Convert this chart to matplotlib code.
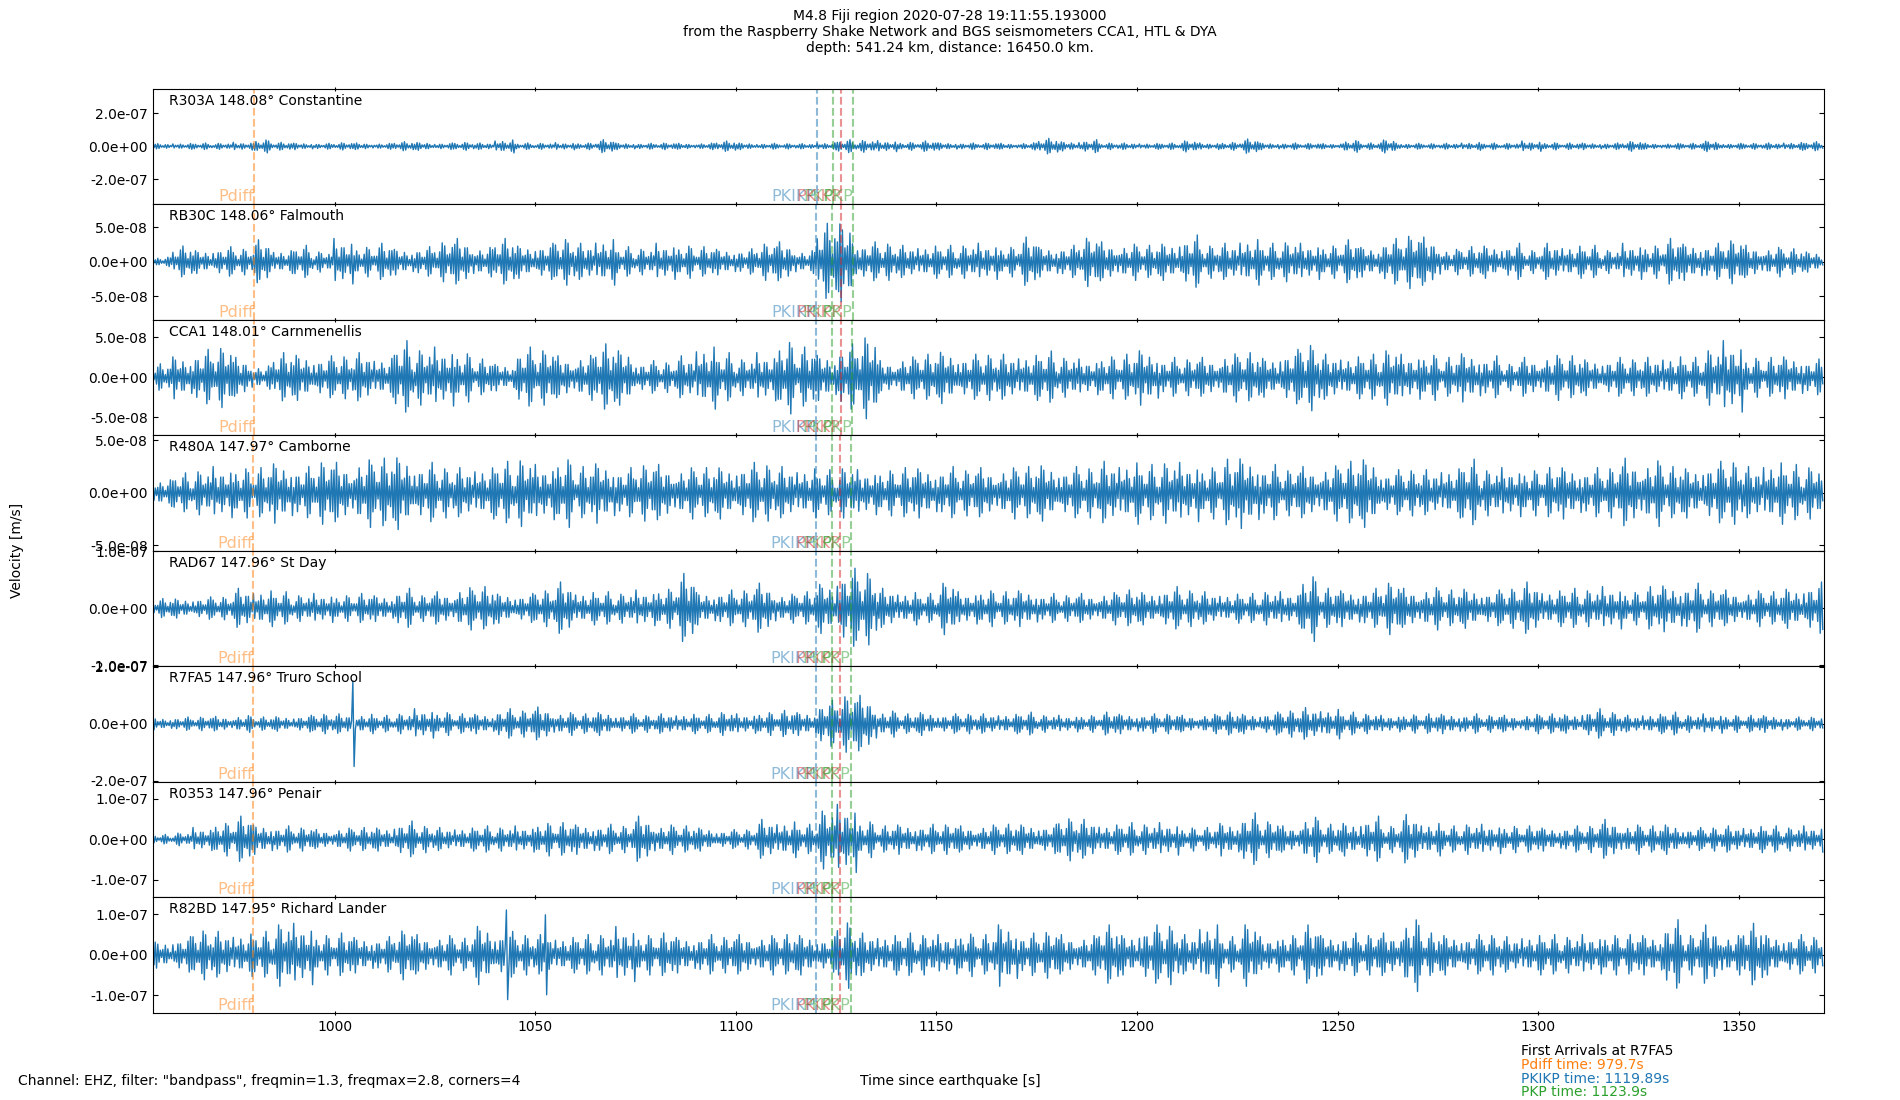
import numpy as np
import matplotlib
matplotlib.use("Agg")
import matplotlib.pyplot as plt
import matplotlib.transforms as mtransforms
from matplotlib.ticker import MultipleLocator, FormatStrFormatter

# --- stations (top to bottom) ---
stations = ["R303A", "RB30C", "CCA1", "R480A", "RAD67", "R7FA5", "R0353", "R82BD"]
distances = [148.08, 148.06, 148.01, 147.97, 147.96, 147.96, 147.96, 147.95]
places = ["Constantine", "Falmouth", "Carnmenellis", "Camborne", "St Day",
          "Truro School", "Penair", "Richard Lander"]

# y limits (+/-) and tick step, m/s
ylims = [3.5e-7, 8.4e-8, 7.25e-8, 5.5e-8, 1.01e-7, 2.03e-7, 1.42e-7, 1.43e-7]
ysteps = [2e-7, 5e-8, 5e-8, 5e-8, 1e-7, 2e-7, 1e-7, 1e-7]

# arrival times per station [s]
phase_names = ["Pdiff", "PKIKP", "PKP", "PKiKP", "PKP"]
phase_colors = ["C1", "C0", "C2", "C3", "C2"]
arrivals = [
    [980.0, 1120.15, 1124.15, 1126.2, 1129.15],
    [980.0, 1120.1, 1124.1, 1126.2, 1129.1],
    [979.95, 1120.05, 1124.05, 1126.1, 1129.0],
    [979.8, 1119.95, 1123.95, 1126.0, 1128.8],
    [979.7, 1119.9, 1123.9, 1125.9, 1128.6],
    [979.7, 1119.89, 1123.9, 1125.9, 1128.6],
    [979.7, 1119.9, 1123.9, 1125.9, 1128.6],
    [979.7, 1119.88, 1123.9, 1125.9, 1128.6],
]

# trace window [s since origin]
t_start, t_end = 954.7, 1371.2

# peak amplitude per ~5 s window, nm/s
env_r303a = [16, 18, 20, 18, 24, 40, 24, 20, 18, 22, 20, 18, 28, 24, 20, 24, 20, 40, 20, 18,
             22, 20, 40, 20, 18, 20, 18, 20, 32, 20, 18, 16, 16, 22, 40, 36, 34, 24, 32, 22,
             20, 20, 18, 22, 48, 28, 40, 20, 20, 18, 20, 34, 20, 24, 44, 20, 20, 18, 16, 36,
             20, 40, 18, 16, 18, 24, 20, 18, 32, 22, 20, 20, 20, 30, 18, 18, 18, 32, 18, 18,
             20, 24, 28]
env_rb30c = [7, 23, 17, 22, 19, 32, 17, 24, 15, 34, 22, 27, 19, 22, 29, 34, 22, 34, 24, 27,
             34, 27, 34, 22, 19, 27, 24, 22, 19, 19, 27, 29, 17, 56, 58, 29, 27, 24, 24, 24,
             24, 27, 22, 36, 22, 24, 36, 29, 27, 24, 27, 39, 24, 27, 34, 27, 29, 27, 24, 32,
             22, 34, 39, 36, 19, 22, 24, 27, 17, 27, 24, 24, 17, 27, 24, 34, 27, 27, 32, 24,
             22, 19, 15]
env_cca1 = [17, 27, 35, 38, 25, 15, 31, 29, 27, 27, 31, 25, 46, 35, 38, 31, 23, 17, 38, 35,
            27, 29, 42, 35, 21, 19, 27, 40, 31, 23, 31, 46, 38, 29, 42, 52, 21, 27, 29, 33,
            29, 29, 29, 29, 33, 25, 23, 27, 29, 35, 25, 23, 25, 31, 31, 25, 35, 42, 29, 27,
            29, 35, 29, 29, 25, 31, 27, 17, 25, 29, 27, 23, 25, 23, 25, 27, 25, 35, 46, 25,
            25, 27, 23]
env_r480a = [13, 19, 21, 25, 24, 24, 29, 25, 30, 29, 33, 33, 35, 29, 24, 24, 25, 30, 32, 27,
             33, 25, 29, 24, 27, 27, 25, 24, 25, 29, 27, 25, 24, 22, 24, 22, 22, 24, 24, 25,
             22, 24, 25, 25, 27, 25, 24, 30, 30, 27, 29, 29, 25, 32, 34, 27, 22, 25, 27, 30,
             33, 22, 22, 22, 24, 32, 22, 24, 22, 24, 25, 24, 24, 33, 32, 25, 24, 30, 30, 25,
             30, 27, 25]
env_rad67 = [17, 17, 20, 20, 35, 32, 29, 23, 26, 23, 26, 23, 35, 23, 29, 38, 38, 26, 26, 32,
             46, 29, 29, 26, 32, 35, 61, 29, 32, 32, 44, 26, 29, 44, 70, 64, 35, 29, 26, 46,
             29, 32, 29, 32, 26, 23, 26, 29, 32, 29, 38, 32, 29, 26, 26, 29, 29, 58, 35, 32,
             35, 46, 35, 38, 32, 35, 32, 35, 46, 32, 35, 32, 38, 29, 38, 41, 44, 32, 32, 32,
             29, 35, 46]
env_r7fa5 = [21, 24, 24, 26, 30, 24, 26, 30, 35, 35, 35, 30, 35, 53, 41, 35, 35, 53, 47, 59,
             41, 35, 41, 35, 30, 35, 35, 33, 41, 35, 41, 47, 41, 83, 100, 100, 47, 35, 41, 35,
             35, 35, 35, 41, 30, 30, 30, 41, 35, 35, 35, 30, 35, 41, 35, 41, 47, 57, 53, 41,
             35, 30, 33, 35, 35, 35, 30, 30, 35, 35, 33, 53, 41, 30, 35, 41, 30, 35, 30, 30,
             30, 24, 24]
env_r0353 = [12, 16, 29, 41, 57, 37, 33, 29, 24, 29, 29, 29, 45, 33, 29, 29, 33, 29, 33, 41,
             41, 37, 37, 33, 57, 37, 33, 29, 24, 24, 49, 45, 37, 73, 86, 45, 33, 37, 37, 37,
             33, 37, 37, 37, 37, 53, 49, 37, 41, 37, 41, 29, 29, 41, 65, 45, 33, 57, 37, 41,
             57, 33, 61, 41, 33, 37, 37, 33, 33, 29, 33, 33, 49, 37, 33, 37, 29, 29, 33, 33,
             33, 29, 33]
env_r82bd = [33, 45, 62, 58, 54, 58, 78, 78, 50, 54, 45, 45, 62, 50, 50, 41, 74, 58, 50, 50,
             45, 50, 50, 70, 50, 54, 45, 50, 45, 50, 50, 50, 50, 45, 83, 54, 50, 54, 50, 50,
             54, 50, 78, 54, 58, 50, 50, 74, 50, 74, 74, 50, 78, 45, 78, 45, 50, 74, 50, 54,
             50, 54, 91, 54, 50, 50, 50, 45, 50, 50, 45, 50, 50, 50, 50, 87, 50, 74, 50, 78,
             50, 50, 45]
envelopes = [env_r303a, env_rb30c, env_cca1, env_r480a, env_rad67, env_r7fa5, env_r0353, env_r82bd]

# single large spikes (time s, amplitude nm/s)
spikes = [[], [], [], [], [], [(1004.6, 150)], [], [(1042.9, 111), (1052.6, 99)]]

# shape of the wiggle packet inside one window (relative to the window peak)
wiggle = np.array([0.3, 0.5, 0.75, 0.95, 1.0, 0.8, 0.55, 0.35,
                   0.2, 0.4, 0.6, 0.72, 0.6, 0.45, 0.3, 0.18])

title = ("M4.8 Fiji region 2020-07-28 19:11:55.193000\n"
         "from the Raspberry Shake Network and BGS seismometers CCA1, HTL & DYA\n"
         "depth: 541.24 km, distance: 16450.0 km.")
filt_text = 'Channel: EHZ, filter: "bandpass", freqmin=1.3, freqmax=2.8, corners=4'
first_station = "R7FA5"
first_pdiff, first_pkikp, first_pkp = 979.7, 1119.89, 1123.9


def build_trace(env_nm, spk, shift):
    n = len(wiggle)
    dt = (t_end - t_start) / len(env_nm) / n
    y = []
    for k, a in enumerate(env_nm):
        y.extend(a * np.roll(wiggle, -((5 * k + shift) % n)))
    y = np.array(y) * 1e-9
    y[1::2] *= -1
    t = t_start + np.arange(len(y)) * dt
    for ts, amp in spk:
        i = int(round((ts - t_start) / dt))
        y[i] = amp * 1e-9
        y[i + 1] = -amp * 1e-9
    return t, y


fig, axes = plt.subplots(len(stations), 1, sharex=True, figsize=(19, 11), dpi=100)
fig.subplots_adjust(left=0.0804, right=0.96, top=0.9195, bottom=0.0795, hspace=0)

for i, ax in enumerate(axes):
    t, y = build_trace(envelopes[i], spikes[i], 7 * i)
    ax.plot(t, y, color="C0", lw=1.0)
    trans = mtransforms.blended_transform_factory(ax.transData, ax.transAxes)
    for name, col, ta in zip(phase_names, phase_colors, arrivals[i]):
        ax.axvline(ta, color=col, ls="--", lw=1.5, alpha=0.5)
        ax.text(ta, 0.0, name, color=col, alpha=0.5, ha="right", va="bottom",
                fontsize=11.5, transform=trans)
    ax.text(0.01, 0.955, f"{stations[i]} {distances[i]:.2f}° {places[i]}",
            transform=ax.transAxes, va="top", ha="left", fontsize=10)
    ax.set_ylim(-ylims[i], ylims[i])
    ax.yaxis.set_major_locator(MultipleLocator(ysteps[i]))
    ax.yaxis.set_major_formatter(FormatStrFormatter("%.1e"))
    ax.tick_params(axis="y", direction="in", left=True, right=True)
    ax.tick_params(axis="x", direction="inout", top=True, bottom=True)

axes[-1].set_xlim(t_start, t_end)
axes[-1].xaxis.set_major_locator(MultipleLocator(50))

fig.suptitle(title, fontsize=10, y=0.9918, va="top")
fig.text(0.009, 0.5, "Velocity [m/s]", rotation=90, ha="center", va="center", fontsize=10)
fig.text(0.5, 0.0173, "Time since earthquake [s]", ha="center", va="center", fontsize=10)
fig.text(0.0096, 0.0173, filt_text, ha="left", va="center", fontsize=10)
fig.text(0.8005, 0.0445, f"First Arrivals at {first_station}", ha="left", va="center", fontsize=10)
fig.text(0.8005, 0.0318, f"Pdiff time: {first_pdiff}s", color="C1", ha="left", va="center", fontsize=10)
fig.text(0.8005, 0.0191, f"PKIKP time: {first_pkikp}s", color="C0", ha="left", va="center", fontsize=10)
fig.text(0.8005, 0.0073, f"PKP time: {first_pkp}s", color="C2", ha="left", va="center", fontsize=10)

fig.savefig("out.png")
